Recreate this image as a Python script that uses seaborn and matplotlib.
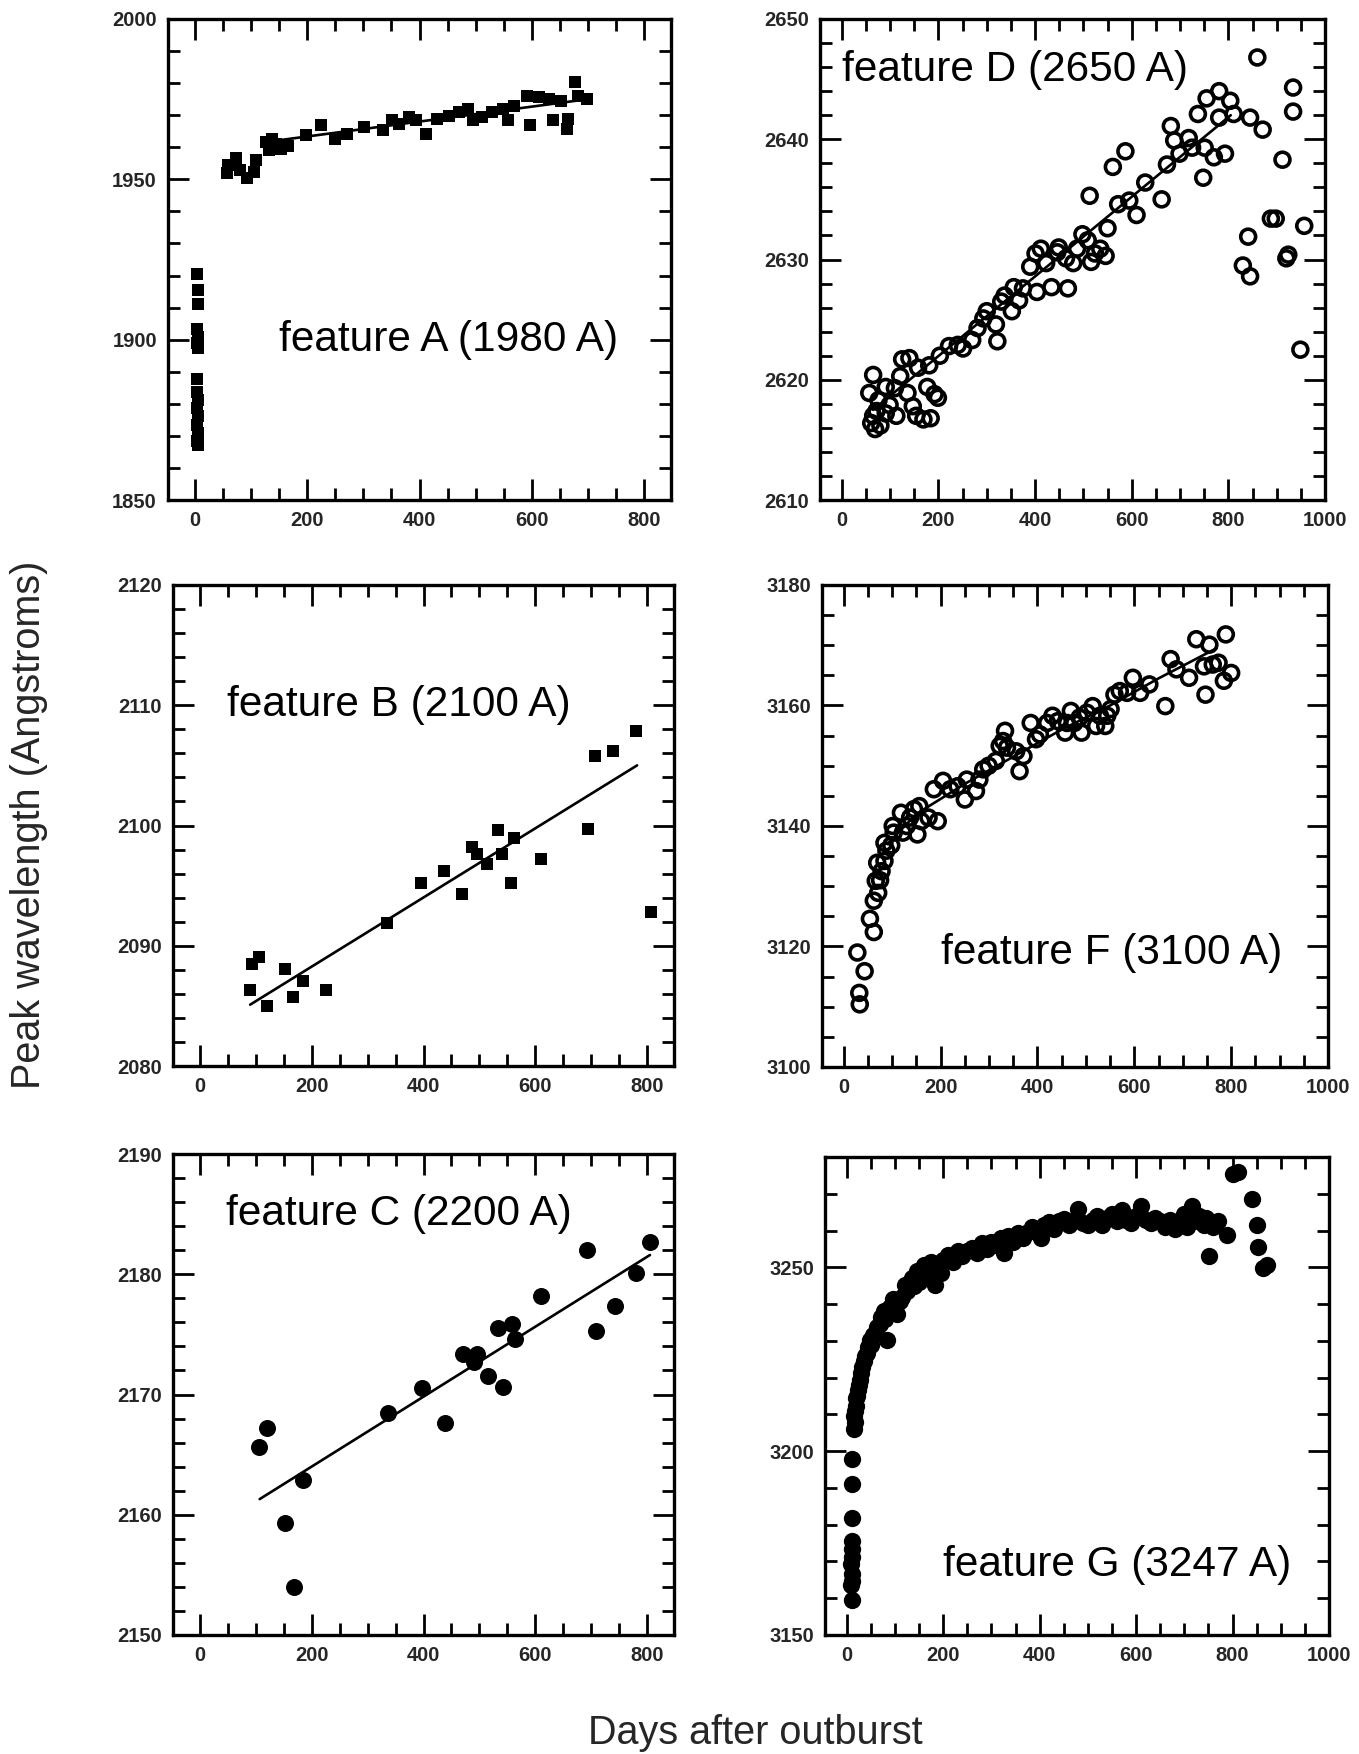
import matplotlib
matplotlib.use("Agg")
import matplotlib.pyplot as plt
import seaborn as sns
from matplotlib.ticker import MultipleLocator

sns.set_theme(style="ticks")
plt.rcParams['font.family'] = ['Liberation Sans', 'DejaVu Sans']

# ---------------- data ----------------
# feature A (filled squares)
A_x = [3, 5, 5, 4, 6, 3, 5, 4, 3, 5, 4, 6, 3, 5, 4, 5,
       57, 58, 74, 80, 92, 105, 108, 126, 132, 138, 145, 154, 165, 197, 225, 249,
       271, 302, 335, 351, 363, 382, 394, 412, 431, 452, 471, 486, 495, 511, 529,
       548, 557, 569, 591, 597, 612, 631, 637, 652, 663, 665, 677, 683, 698]
A_y = [1920.4, 1915.5, 1911.0, 1903.4, 1900.8, 1899.0, 1897.5, 1887.6, 1883.8,
       1881.2, 1878.7, 1876.1, 1873.5, 1870.9, 1868.3, 1867.0,
       1951.9, 1954.4, 1956.5, 1952.9, 1950.3, 1952.4, 1956.0, 1961.6, 1959.2,
       1962.7, 1961.0, 1959.6, 1960.5, 1963.7, 1966.8, 1962.7, 1964.2, 1966.3,
       1965.3, 1968.4, 1967.3, 1969.4, 1968.4, 1964.2, 1968.9, 1969.9, 1970.9,
       1972.0, 1968.4, 1969.4, 1970.9, 1972.0, 1968.4, 1973.0, 1976.1, 1966.8,
       1975.6, 1975.0, 1968.4, 1974.5, 1965.8, 1968.9, 1980.2, 1976.1, 1975.0]
A_fit_x = [120, 700]
A_fit_y = [1961.5, 1975.0]

# feature B (filled squares)
B_x = [90, 94, 105, 120, 152, 167, 184, 226, 335, 396, 437, 469, 487, 495, 513,
       533, 541, 556, 562, 611, 695, 707, 739, 780, 806]
B_y = [2086.3, 2088.5, 2089.1, 2085.0, 2088.1, 2085.7, 2087.1, 2086.3, 2091.9,
       2095.2, 2096.2, 2094.3, 2098.2, 2097.6, 2096.8, 2099.6, 2097.6, 2095.2,
       2099.0, 2097.2, 2099.7, 2105.8, 2106.2, 2107.9, 2092.8]
B_fit_x = [90, 782]
B_fit_y = [2085.1, 2105.0]

# feature C (filled circles)
C_x = [105, 121, 152, 169, 185, 337, 398, 439, 471, 490, 495, 515, 533, 543,
       558, 563, 610, 693, 709, 743, 780, 805]
C_y = [2165.6, 2167.2, 2159.3, 2154.0, 2162.9, 2168.5, 2170.5, 2167.6, 2173.4,
       2172.7, 2173.4, 2171.5, 2175.5, 2170.6, 2175.9, 2174.6, 2178.2, 2182.0,
       2175.3, 2177.4, 2180.1, 2182.7]
C_fit_x = [107, 805]
C_fit_y = [2161.3, 2181.6]

# feature D (open circles)
D_x = [65, 57, 65, 69, 61, 76, 91, 99, 110, 121, 125, 140, 158, 136, 147, 154,
       169, 184, 177, 192, 199, 113, 91, 80, 72,
       181, 203, 222, 240, 251, 270, 281, 293, 300, 319, 322, 330, 337, 352, 356,
       367, 375, 390, 401, 404, 412, 423, 434, 446, 449, 464, 468, 479, 487, 498,
       509, 516, 524, 535, 546, 513, 550, 561, 587, 572, 595, 610, 628, 662, 673,
       681, 688, 699, 718, 725, 737, 748, 751, 755, 770, 781, 781, 793, 804, 811,
       845, 860, 871, 841, 830, 845, 888, 898, 912, 920, 924, 934, 934, 957, 949]
D_y = [2620.4, 2618.9, 2617.0, 2615.9, 2616.4, 2618.3, 2619.4, 2617.9, 2619.3,
       2620.3, 2621.7, 2621.8, 2621.0, 2618.9, 2617.8, 2617.0, 2616.7, 2616.8,
       2619.4, 2618.8, 2618.5, 2617.0, 2617.2, 2616.2, 2617.4,
       2621.2, 2622.0, 2622.8, 2622.9, 2622.6, 2623.3, 2624.3, 2625.1, 2625.7,
       2624.6, 2623.2, 2626.5, 2627.0, 2625.7, 2627.7, 2626.6, 2627.6, 2629.4,
       2630.5, 2627.3, 2630.9, 2629.7, 2627.7, 2630.6, 2631.0, 2630.1, 2627.6,
       2629.7, 2630.9, 2632.1, 2631.6, 2629.8, 2630.5, 2630.9, 2630.3, 2635.3,
       2632.6, 2637.7, 2639.0, 2634.6, 2634.9, 2633.7, 2636.4, 2635.0, 2637.9,
       2641.1, 2639.9, 2638.8, 2640.1, 2639.3, 2642.1, 2636.8, 2639.3, 2643.4,
       2638.5, 2644.0, 2641.8, 2638.8, 2643.2, 2642.1, 2641.8, 2646.8, 2640.8,
       2631.9, 2629.5, 2628.6, 2633.4, 2633.4, 2638.3, 2630.1, 2630.4, 2644.3,
       2642.3, 2632.8, 2622.5]
D_fit_x = [65, 805]
D_fit_y = [2617.5, 2642.0]

# feature F (open circles)
F_x = [28, 43, 32, 33, 54, 62, 62, 71, 66, 75, 78, 69, 84, 88, 84, 98, 103, 101,
       118, 122, 130, 137, 145, 156, 160, 152, 175, 194, 186, 205, 220, 235, 250,
       254, 273, 280, 288, 299, 314, 322, 333, 329, 337, 356, 363, 371, 386, 397,
       405, 420, 431, 442, 457, 461, 469, 476, 491, 487, 502, 514, 521, 529, 540,
       544, 551, 559, 570, 585, 597, 612, 631, 664, 675, 687, 713, 728, 744, 747,
       755, 762, 774, 789, 785, 800]
F_y = [3119.0, 3115.9, 3112.3, 3110.4, 3124.6, 3122.4, 3127.6, 3128.9, 3130.9,
       3131.0, 3132.5, 3133.9, 3134.2, 3135.9, 3137.2, 3136.8, 3138.9, 3140.0,
       3142.2, 3138.9, 3140.0, 3141.4, 3142.8, 3143.3, 3140.8, 3138.6, 3141.4,
       3140.8, 3146.1, 3147.5, 3146.1, 3146.6, 3144.4, 3147.7, 3145.8, 3147.7,
       3149.4, 3150.0, 3150.8, 3153.3, 3155.8, 3154.1, 3153.0, 3152.4, 3149.1,
       3151.6, 3157.1, 3154.4, 3155.2, 3157.1, 3158.3, 3157.4, 3155.5, 3157.1,
       3159.1, 3157.1, 3155.5, 3158.0, 3158.8, 3159.9, 3156.6, 3158.3, 3156.6,
       3158.3, 3159.4, 3161.8, 3162.4, 3162.1, 3164.6, 3162.1, 3163.5, 3159.9,
       3167.7, 3166.0, 3164.6, 3171.0, 3166.5, 3161.8, 3170.1, 3166.8, 3167.1,
       3171.8, 3164.1, 3165.4]
F_fit_x = [90, 150, 250, 350, 450, 550, 650, 770]
F_fit_y = [3137.0, 3142.0, 3147.0, 3151.5, 3156.0, 3160.0, 3164.5, 3169.5]

# feature G (filled circles)
G_x = [10, 9, 11, 10, 9, 11, 10, 12, 11, 12, 12,
       16, 17, 15, 18, 20, 19, 22, 24, 25, 27, 30, 32, 35, 38, 42, 45, 50, 48, 55,
       60, 62, 70, 72, 78, 83, 80, 85, 90, 95, 100, 105, 110, 115, 120, 125, 130,
       135, 140, 145, 150, 155, 160, 165, 170, 175, 184, 190, 195, 200, 210, 220,
       230, 240, 250, 260, 270, 280, 290, 300, 310, 320, 327, 335, 345, 355, 365,
       375, 385, 395, 402, 410, 420, 430, 440, 450, 460, 470, 480, 490, 500, 510,
       520, 530, 540, 550, 560, 570, 580, 590, 600, 610, 620, 630, 640, 650, 660,
       670, 680, 690, 700, 705, 715, 720, 730, 740, 745, 751, 760, 770, 788, 800,
       811, 841, 851, 852, 863, 871]
G_y = [3159.5, 3163.5, 3164.8, 3166.6, 3169.3, 3171.1, 3173.3, 3175.6, 3181.8,
       3191.2, 3198.0,
       3206.0, 3207.8, 3209.6, 3210.9, 3212.3, 3214.5, 3215.0, 3216.5, 3218.0,
       3219.4, 3221.2, 3223.0, 3224.5, 3226.0, 3226.6, 3228.4, 3229.0, 3230.1,
       3231.5, 3232.0, 3233.7, 3234.5, 3236.4, 3238.2, 3230.1, 3235.9, 3237.5,
       3239.1, 3241.3, 3240.0, 3237.3, 3240.9, 3242.0, 3245.3, 3243.5, 3244.5,
       3247.1, 3245.0, 3248.9, 3246.0, 3248.0, 3250.7, 3247.5, 3249.5, 3251.5,
       3245.3, 3250.0, 3248.5, 3252.0, 3253.4, 3251.5, 3254.3, 3253.0, 3254.5,
       3255.2, 3253.8, 3256.5, 3255.0, 3257.0, 3256.0, 3257.9, 3253.8, 3258.5,
       3257.0, 3259.2, 3258.0, 3259.7, 3261.0, 3259.5, 3257.9, 3261.4, 3262.3,
       3260.5, 3262.5, 3263.2, 3261.5, 3262.5, 3265.9, 3262.0, 3261.5, 3263.0,
       3264.0, 3261.5, 3263.5, 3264.5, 3262.5, 3265.5, 3263.0, 3262.0, 3264.0,
       3266.8, 3263.0, 3262.0, 3263.5, 3262.5, 3261.0, 3263.0, 3260.5, 3262.0,
       3264.6, 3261.0, 3266.8, 3262.5, 3264.0, 3261.5, 3263.5, 3253.0, 3261.0,
       3262.5, 3258.8, 3275.3, 3275.8, 3268.6, 3261.4, 3255.6, 3249.8, 3250.7]

labels = ["feature A (1980 A)", "feature B (2100 A)", "feature C (2200 A)",
          "feature D (2650 A)", "feature F (3100 A)", "feature G (3247 A)"]

# ---------------- figure ----------------
W, H = 1359, 1754
fig = plt.figure(figsize=(W / 100, H / 100), dpi=100)


def add_ax(l, t, r, b):
    return fig.add_axes([l / W, 1 - b / H, (r - l) / W, (b - t) / H])


axA = add_ax(168, 19, 671, 500)
axD = add_ax(820, 19, 1325, 500)
axB = add_ax(173, 585, 674, 1066)
axF = add_ax(822, 585, 1328, 1067)
axC = add_ax(173, 1154, 674, 1635)
axG = add_ax(825, 1157, 1329, 1635)


def style(ax, xlim, ylim, xmaj, xmin, ymaj, ymin):
    ax.set_xlim(xlim)
    ax.set_ylim(ylim)
    ax.xaxis.set_major_locator(MultipleLocator(xmaj))
    ax.xaxis.set_minor_locator(MultipleLocator(xmin))
    ax.yaxis.set_major_locator(MultipleLocator(ymaj))
    ax.yaxis.set_minor_locator(MultipleLocator(ymin))
    ax.tick_params(which='both', direction='in', top=True, right=True,
                   width=2.0, color='black')
    ax.tick_params(which='major', length=15, pad=8, labelsize=14.5)
    ax.tick_params(which='minor', length=8.5)
    for lab in ax.get_xticklabels() + ax.get_yticklabels():
        lab.set_fontweight('bold')
    for sp in ax.spines.values():
        sp.set_linewidth(2.4)
        sp.set_color('black')
    ax.set_xlabel('')
    ax.set_ylabel('')
    ax.set_facecolor('white')


sq = dict(marker='s', color='black', linewidth=0)
fc = dict(marker='o', color='black', linewidth=0)
oc = dict(marker='o', color='black', facecolor='none', edgecolor='black', linewidth=2.6)
ln = dict(color='black', linewidth=1.9)

sns.scatterplot(x=A_x, y=A_y, ax=axA, s=85, **sq)
sns.lineplot(x=A_fit_x, y=A_fit_y, ax=axA, **ln)
sns.scatterplot(x=B_x, y=B_y, ax=axB, s=80, **sq)
sns.lineplot(x=B_fit_x, y=B_fit_y, ax=axB, **ln)
sns.scatterplot(x=C_x, y=C_y, ax=axC, s=150, **fc)
sns.lineplot(x=C_fit_x, y=C_fit_y, ax=axC, **ln)
sns.scatterplot(x=D_x, y=D_y, ax=axD, s=115, **oc)
sns.lineplot(x=D_fit_x, y=D_fit_y, ax=axD, **ln)
sns.scatterplot(x=F_x, y=F_y, ax=axF, s=115, **oc)
sns.lineplot(x=F_fit_x, y=F_fit_y, ax=axF, **ln)
sns.scatterplot(x=G_x, y=G_y, ax=axG, s=155, **fc)

style(axA, (-48, 848), (1850, 2000), 200, 50, 50, 10)
style(axB, (-48, 848), (2080, 2120), 200, 50, 10, 2)
style(axC, (-48, 848), (2150, 2190), 200, 50, 10, 2)
style(axD, (-45, 1000), (2610, 2650), 200, 50, 10, 2)
style(axF, (-45, 1000), (3100, 3180), 200, 50, 20, 5)
style(axG, (-45, 1000), (3150, 3280), 200, 50, 50, 10)

tkw = dict(fontsize=30.5, va='center', ha='left', color='black')
axA.text(150, 1900, labels[0], **tkw)
axB.text(48, 2110, labels[1], **tkw)
axC.text(46, 2185, labels[2], **tkw)
axD.text(0, 2645.8, labels[3], **tkw)
axF.text(200, 3119, labels[4], **tkw)
axG.text(199, 3169, labels[5], **tkw)

fig.text(29 / W, 1 - 825 / H, "Peak wavelength (Angstroms)", rotation=90,
         ha='center', va='center', fontsize=28.5)
fig.text(755 / W, 1 - 1733 / H, "Days after outburst", ha='center',
         va='center', fontsize=28.5)

fig.savefig("out.png", dpi=100, facecolor='white')
